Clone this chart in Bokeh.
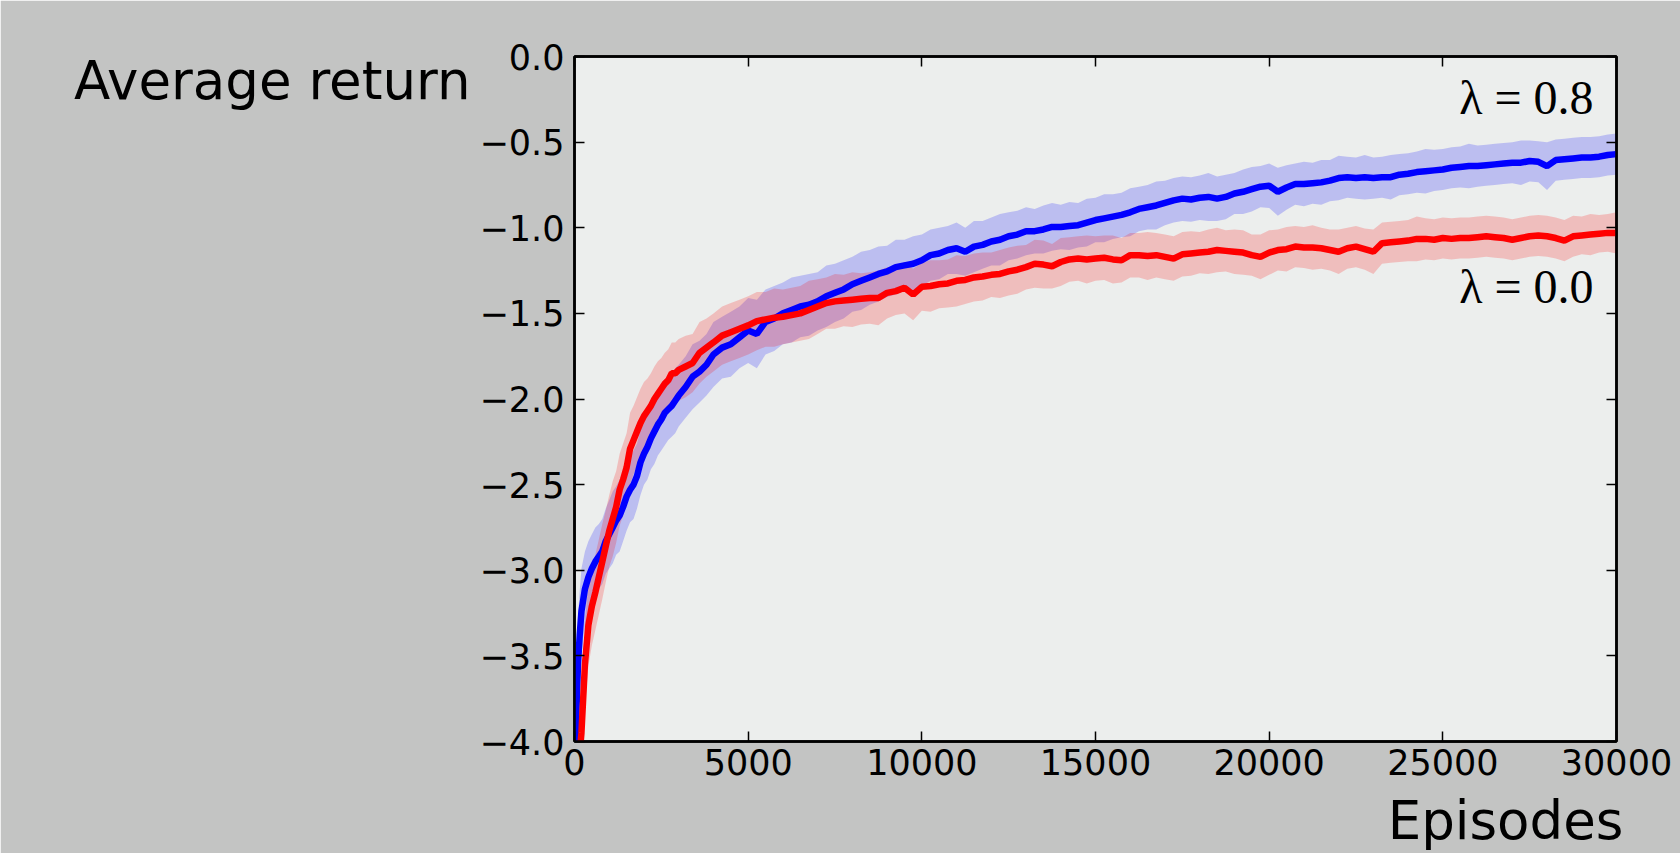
from bokeh.plotting import figure
from bokeh.models import Range1d, LinearAxis, FixedTicker, Label, ColumnDataSource
from bokeh.embed import file_html
from bokeh.resources import INLINE

# ---------------- data ----------------
episodes_early = [0, 50, 100, 150, 200, 300, 400, 500, 600, 700, 800, 900, 1000, 1100, 1200,
                  1300, 1400, 1500, 1600, 1700, 1800, 1900, 2000, 2100, 2200, 2300, 2400, 2500,
                  2600, 2700, 2800, 2900, 3000, 3200, 3400, 3600, 3800, 4000, 4250, 4500, 4750]
episodes_late = list(range(5000, 30001, 250))
episodes = episodes_early + episodes_late

blue_mean = [
    -4.25, -3.85, -3.55, -3.38, -3.24, -3.11, -3.04, -2.99, -2.95, -2.92, -2.89, -2.83, -2.79, -2.75, -2.71,
    -2.68, -2.63, -2.57, -2.53, -2.50, -2.45, -2.37, -2.32, -2.28, -2.23, -2.19, -2.15, -2.12,
    -2.08, -2.06, -2.04, -2.01, -1.98, -1.93, -1.87, -1.84, -1.80, -1.74, -1.70, -1.68, -1.64,
    # 5000 .. 7500
    -1.60, -1.62, -1.55, -1.53, -1.50, -1.48, -1.46, -1.45, -1.43, -1.40, -1.38,
    # 7750 .. 10000
    -1.36, -1.33, -1.31, -1.29, -1.27, -1.255, -1.23, -1.22, -1.21, -1.19,
    # 10250 .. 12500
    -1.16, -1.15, -1.13, -1.12, -1.14, -1.11, -1.10, -1.08, -1.07, -1.05,
    # 12750 .. 15000
    -1.04, -1.02, -1.02, -1.01, -0.995, -0.995, -0.99, -0.985, -0.97, -0.955,
    # 15250 .. 17500
    -0.945, -0.935, -0.925, -0.91, -0.89, -0.88, -0.87, -0.855, -0.84, -0.83,
    # 17750 .. 20000
    -0.835, -0.825, -0.82, -0.83, -0.82, -0.80, -0.79, -0.775, -0.76, -0.755,
    # 20250 .. 22500
    -0.79, -0.765, -0.745, -0.745, -0.74, -0.735, -0.725, -0.71, -0.705, -0.71,
    # 22750 .. 25000
    -0.705, -0.71, -0.705, -0.705, -0.69, -0.685, -0.675, -0.67, -0.665, -0.66,
    # 25250 .. 27500
    -0.65, -0.645, -0.64, -0.64, -0.635, -0.63, -0.625, -0.62, -0.62, -0.61,
    # 27750 .. 30000
    -0.615, -0.64, -0.605, -0.60, -0.595, -0.59, -0.59, -0.585, -0.575, -0.57,
]

red_mean = [
    -4.60, -4.35, -4.20, -4.07, -3.95, -3.55, -3.32, -3.21, -3.13, -3.04, -2.95, -2.86, -2.77, -2.70, -2.63,
    -2.53, -2.47, -2.40, -2.29, -2.24, -2.19, -2.14, -2.10, -2.07, -2.04, -2.00, -1.97, -1.94,
    -1.91, -1.89, -1.85, -1.85, -1.83, -1.81, -1.79, -1.73, -1.70, -1.67, -1.63, -1.61, -1.59,
    # 5000 .. 7500
    -1.57, -1.545, -1.535, -1.525, -1.52, -1.51, -1.50, -1.48, -1.46, -1.44, -1.43,
    # 7750 .. 10000
    -1.425, -1.42, -1.415, -1.41, -1.41, -1.38, -1.37, -1.35, -1.39, -1.345,
    # 10250 .. 12500
    -1.34, -1.33, -1.325, -1.31, -1.305, -1.29, -1.285, -1.275, -1.27, -1.255,
    # 12750 .. 15000
    -1.245, -1.23, -1.21, -1.215, -1.225, -1.20, -1.185, -1.18, -1.185, -1.18,
    # 15250 .. 17500
    -1.175, -1.185, -1.19, -1.16, -1.16, -1.165, -1.16, -1.17, -1.18, -1.155,
    # 17750 .. 20000
    -1.15, -1.145, -1.14, -1.13, -1.135, -1.14, -1.145, -1.16, -1.17, -1.145,
    # 20250 .. 22500
    -1.13, -1.125, -1.11, -1.115, -1.115, -1.12, -1.13, -1.14, -1.12, -1.11,
    # 22750 .. 25000
    -1.125, -1.14, -1.09, -1.085, -1.08, -1.075, -1.065, -1.065, -1.07, -1.06,
    # 25250 .. 27500
    -1.065, -1.06, -1.06, -1.055, -1.05, -1.055, -1.06, -1.07, -1.06, -1.05,
    # 27750 .. 30000
    -1.045, -1.05, -1.06, -1.075, -1.05, -1.045, -1.04, -1.035, -1.03, -1.03,
]

blue_spread = [
    0.30, 0.30, 0.28, 0.26, 0.25, 0.22, 0.21, 0.20, 0.20, 0.19, 0.19, 0.19, 0.20, 0.21, 0.20,
    0.21, 0.20, 0.20, 0.19, 0.20, 0.19, 0.19, 0.18, 0.19, 0.18, 0.19, 0.18, 0.18,
    0.19, 0.18, 0.18, 0.19, 0.18, 0.18, 0.19, 0.18, 0.18, 0.19, 0.18, 0.19, 0.18,
    0.19, 0.20, 0.19, 0.19, 0.18, 0.19, 0.18, 0.18, 0.17, 0.18, 0.17,
    0.17, 0.16, 0.17, 0.16, 0.16, 0.15, 0.16, 0.15, 0.16, 0.15,
    0.15, 0.15, 0.14, 0.15, 0.14, 0.15, 0.14, 0.14, 0.15, 0.14,
    0.14, 0.14, 0.13, 0.14, 0.14, 0.13, 0.14, 0.13, 0.14, 0.13,
    0.14, 0.13, 0.13, 0.14, 0.13, 0.13, 0.14, 0.13, 0.13, 0.13,
    0.13, 0.13, 0.14, 0.13, 0.13, 0.12, 0.13, 0.13, 0.12, 0.13,
    0.14, 0.13, 0.12, 0.13, 0.12, 0.13, 0.12, 0.13, 0.12, 0.12,
    0.13, 0.12, 0.12, 0.13, 0.12, 0.12, 0.12, 0.13, 0.12, 0.12,
    0.12, 0.12, 0.13, 0.12, 0.12, 0.12, 0.12, 0.12, 0.13, 0.12,
    0.12, 0.14, 0.12, 0.12, 0.12, 0.12, 0.12, 0.12, 0.12, 0.12,
]

red_spread = [
    0.35, 0.33, 0.30, 0.28, 0.27, 0.25, 0.24, 0.23, 0.22, 0.22, 0.22, 0.21, 0.21, 0.22, 0.21,
    0.21, 0.21, 0.20, 0.21, 0.20, 0.20, 0.20, 0.20, 0.19, 0.19, 0.19, 0.19, 0.18,
    0.18, 0.18, 0.18, 0.18, 0.18, 0.18, 0.17, 0.18, 0.17, 0.17, 0.17, 0.17, 0.17,
    0.17, 0.17, 0.16, 0.17, 0.16, 0.16, 0.16, 0.17, 0.16, 0.15, 0.16,
    0.15, 0.16, 0.15, 0.15, 0.16, 0.15, 0.14, 0.15, 0.15, 0.14,
    0.15, 0.14, 0.14, 0.15, 0.14, 0.14, 0.14, 0.13, 0.14, 0.14,
    0.14, 0.13, 0.14, 0.14, 0.13, 0.14, 0.13, 0.13, 0.14, 0.13,
    0.13, 0.14, 0.13, 0.13, 0.13, 0.14, 0.13, 0.13, 0.13, 0.13,
    0.13, 0.12, 0.13, 0.13, 0.12, 0.13, 0.13, 0.12, 0.13, 0.13,
    0.12, 0.13, 0.12, 0.12, 0.13, 0.12, 0.12, 0.13, 0.12, 0.12,
    0.12, 0.13, 0.12, 0.12, 0.12, 0.12, 0.13, 0.12, 0.12, 0.12,
    0.12, 0.12, 0.12, 0.12, 0.12, 0.12, 0.12, 0.12, 0.12, 0.12,
    0.12, 0.12, 0.12, 0.12, 0.12, 0.11, 0.12, 0.11, 0.11, 0.12,
]

x_ticks = [0, 5000, 10000, 15000, 20000, 25000, 30000]
x_tick_labels = ["0", "5000", "10000", "15000", "20000", "25000", "30000"]
y_ticks = [-4.0, -3.5, -3.0, -2.5, -2.0, -1.5, -1.0, -0.5, 0.0]
y_tick_labels = ["\u22124.0", "\u22123.5", "\u22123.0", "\u22122.5", "\u22122.0",
                 "\u22121.5", "\u22121.0", "\u22120.5", "0.0"]
x_title = "Episodes"
y_title = "Average return"
series_names = ["\u03bb = 0.8", "\u03bb = 0.0"]

# ---------------- figure ----------------
W, H = 1680, 853
p = figure(width=W, height=H, output_backend="svg", toolbar_location=None,
           x_range=Range1d(0, 30000), y_range=Range1d(-4, 0),
           min_border_left=574, min_border_right=64, min_border_top=56, min_border_bottom=105,
           x_axis_type=None, y_axis_type=None)
p.background_fill_color = "#eceeed"
p.border_fill_color = "#c3c4c3"
p.outline_line_color = "black"
p.outline_line_width = 2.5
p.xgrid.visible = False
p.ygrid.visible = False

src = ColumnDataSource(dict(
    x=episodes,
    b=blue_mean, r=red_mean,
    b_lo=[m - s for m, s in zip(blue_mean, blue_spread)],
    b_hi=[m + s for m, s in zip(blue_mean, blue_spread)],
    r_lo=[m - s for m, s in zip(red_mean, red_spread)],
    r_hi=[m + s for m, s in zip(red_mean, red_spread)],
))

p.varea(x="x", y1="b_lo", y2="b_hi", source=src, fill_color="blue", fill_alpha=0.2)
p.varea(x="x", y1="r_lo", y2="r_hi", source=src, fill_color="red", fill_alpha=0.2)
p.line(x="x", y="b", source=src, line_color="blue", line_width=6.5)
p.line(x="x", y="r", source=src, line_color="red", line_width=6.5)

xt = FixedTicker(ticks=x_ticks)
yt = FixedTicker(ticks=y_ticks)
x_over = {t: l for t, l in zip(x_ticks, x_tick_labels)}
y_over = {t: l for t, l in zip(y_ticks, y_tick_labels)}


def style_axis(ax, show_labels, standoff=8):
    ax.axis_line_color = "black"
    ax.axis_line_width = 2.5
    ax.major_tick_in = 10
    ax.major_tick_out = 0
    ax.major_tick_line_color = "black"
    ax.major_tick_line_width = 1.5
    ax.minor_tick_line_color = None
    ax.major_label_text_font = "DejaVu Sans"
    if show_labels:
        ax.major_label_text_color = "black"
        ax.major_label_text_font_size = "35px"
        ax.major_label_standoff = standoff
    else:
        ax.major_label_text_color = None
        ax.major_label_text_font_size = "8px"
        ax.major_label_standoff = 0


bx = LinearAxis(ticker=xt, major_label_overrides=x_over)
style_axis(bx, True, standoff=7)
p.add_layout(bx, "below")
ly = LinearAxis(ticker=yt, major_label_overrides=y_over)
style_axis(ly, True, standoff=10)
p.add_layout(ly, "left")
tx = LinearAxis(ticker=xt)
style_axis(tx, False)
p.add_layout(tx, "above")
ry = LinearAxis(ticker=yt)
style_axis(ry, False)
p.add_layout(ry, "right")

# axis titles drawn as single-tick axes stacked outside the tick-label axes
ep_pos = 26805
ep_ax = LinearAxis(ticker=FixedTicker(ticks=[ep_pos]), major_label_overrides={ep_pos: x_title})
ep_ax.axis_line_color = None
ep_ax.major_tick_line_color = None
ep_ax.minor_tick_line_color = None
ep_ax.major_tick_in = 0
ep_ax.major_tick_out = 0
ep_ax.major_label_standoff = 12
ep_ax.major_label_text_font = "DejaVu Sans"
ep_ax.major_label_text_font_size = "53px"
ep_ax.major_label_text_color = "black"
p.add_layout(ep_ax, "below")

ar_pos = -0.142
ar_ax = LinearAxis(ticker=FixedTicker(ticks=[ar_pos]), major_label_overrides={ar_pos: y_title})
ar_ax.axis_line_color = None
ar_ax.major_tick_line_color = None
ar_ax.minor_tick_line_color = None
ar_ax.major_tick_in = 0
ar_ax.major_tick_out = 0
ar_ax.major_label_standoff = 6
ar_ax.major_label_text_font = "DejaVu Sans"
ar_ax.major_label_text_font_size = "53px"
ar_ax.major_label_text_color = "black"
p.add_layout(ar_ax, "left")

p.add_layout(Label(x=29340, y=-0.240, text=series_names[0], text_font="Liberation Serif",
                   text_font_size="48px", text_color="black", text_align="right",
                   text_baseline="alphabetic"))
p.add_layout(Label(x=29340, y=-1.345, text=series_names[1], text_font="Liberation Serif",
                   text_font_size="48px", text_color="black", text_align="right",
                   text_baseline="alphabetic"))

open("out.html", "w").write(file_html(p, INLINE))
